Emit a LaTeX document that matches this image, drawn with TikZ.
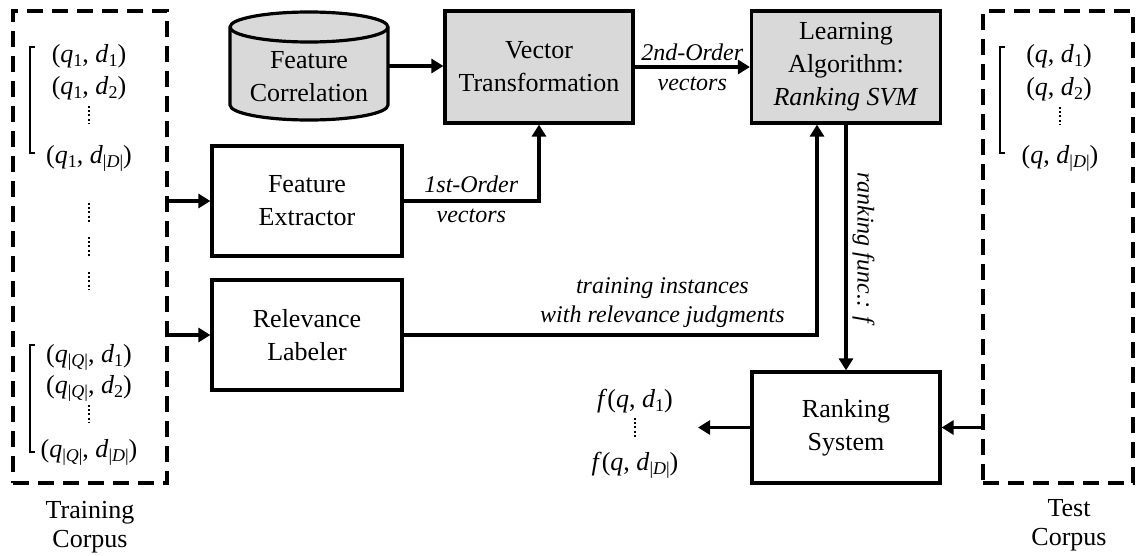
\documentclass[tikz,border=0pt]{standalone}
\usepackage{fontspec}
\setmainfont{Liberation Serif}
\usetikzlibrary{arrows.meta}
\definecolor{boxgray}{RGB}{217,217,217}
\newcommand{\mysb}[1]{\raisebox{-0.16em}{\fontsize{18}{18}\selectfont #1}}
\newcommand{\myq}[1]{\textit{q}\mysb{#1}}
\newcommand{\myd}[1]{\textit{d}\mysb{#1}}
\begin{document}
\begin{tikzpicture}[x=1pt,y=-1pt,
  txt/.style={font=\fontsize{26}{33}\selectfont, align=center},
  box/.style={draw, line width=3.2pt, txt, inner sep=0pt},
  shaded/.style={box, fill=boxgray},
  corpus/.style={draw, line width=3.2pt, dash pattern=on 16pt off 9pt},
  lbl/.style={font=\fontsize{24}{29}\selectfont\itshape, align=center, inner sep=0pt},
  lblup/.style={lbl, anchor=base, yshift=#1},
  arr/.style={line width=3.2pt, -{Triangle[length=12pt,width=14pt]}},
  brk/.style={line width=1.4pt},
  dts/.style={line width=2pt, dash pattern=on 2pt off 2.2pt},
]
\useasboundingbox (0,0) rectangle (1136,555);

% corpora
\node[corpus, minimum width=154pt, minimum height=472pt] (train) at (90,247) {};
\node[corpus, minimum width=150pt, minimum height=472pt] (test) at (1058,247) {};
\node[txt, font=\fontsize{26}{29}\selectfont, anchor=north, inner sep=0pt] (trainlbl) at (90,501) {Training\\Corpus};
\node[txt, font=\fontsize{26}{29}\selectfont, anchor=north, inner sep=0pt] (testlbl) at (1069,499) {Test\\Corpus};

% training list
\draw[brk] (35,47) -- (30,47) -- (30,153) -- (35,153);
\node[txt, anchor=base] (ta1) at (89,62) {(\myq{1}, \myd{1})};
\node[txt, anchor=base] (ta2) at (89,94) {(\myq{1}, \myd{2})};
\draw[dts] (89,106) -- (89,124);
\node[txt, anchor=base] (ta3) at (89,163) {(\myq{1}, \myd{|\textit{D}|})};
\draw[dts] (89,203) -- (89,222);
\draw[dts] (89,237) -- (89,257);
\draw[dts] (89,272) -- (89,290);
\draw[brk] (35,345) -- (30,345) -- (30,452) -- (35,452);
\node[txt, anchor=base] (tb1) at (89,362) {(\myq{|\textit{Q}|}, \myd{1})};
\node[txt, anchor=base] (tb2) at (89,393) {(\myq{|\textit{Q}|}, \myd{2})};
\draw[dts] (89,405) -- (89,423);
\node[txt, anchor=base] (tb3) at (89,457) {(\myq{|\textit{Q}|}, \myd{|\textit{D}|})};

% test list
\draw[brk] (1005,47) -- (1000,47) -- (1000,153) -- (1005,153);
\node[txt, anchor=base] (sa1) at (1059,62) {(\textit{q}, \myd{1})};
\node[txt, anchor=base] (sa2) at (1059,95) {(\textit{q}, \myd{2})};
\draw[dts] (1060,107) -- (1060,125);
\node[txt, anchor=base] (sa3) at (1060,163) {(\textit{q}, \myd{|\textit{D}|})};

% cylinder
\node[minimum width=158pt, minimum height=108pt, inner sep=0pt] (fc) at (309,66) {};
\draw[fill=boxgray, line width=3.2pt] (230,27) -- (230,105)
  arc[start angle=180, end angle=360, x radius=79pt, y radius=15pt]
  -- (388,27)
  arc[start angle=0, end angle=180, x radius=79pt, y radius=15pt] -- cycle;
\draw[line width=3.2pt] (230,27) arc[start angle=180, end angle=360, x radius=79pt, y radius=15pt];
\node[txt] (fctxt) at (309,77) {Feature\\Correlation};

% boxes
\node[shaded, minimum width=188pt, minimum height=112pt] (vt) at (539,67) {Vector\\Transformation};
\node[shaded, minimum width=189pt, minimum height=112pt] (la) at (846,67) {Learning\\Algorithm:\\\textit{Ranking SVM}};
\node[box, minimum width=190pt, minimum height=110pt] (fe) at (307,201) {Feature\\Extractor};
\node[box, minimum width=190pt, minimum height=110pt] (rl) at (307,335) {Relevance\\Labeler};
\node[box, minimum width=188pt, minimum height=111pt] (rs) at (846,427.5) {Ranking\\System};

% connectors
\draw[arr] (train.east |- fe.west) -- (fe.west);
\draw[arr] (train.east |- rl.west) -- (rl.west);
\draw[arr] (fc.east) -- (fc.east -| vt.west);
\draw[arr] (fe.east) -- node[lblup=9pt] {1st-Order} node[lblup=-21pt] {vectors} (fe.east -| vt.south) -- (vt.south);
\draw[arr] (vt.east) -- node[lblup=7pt] {2nd-Order} node[lblup=-23pt] {vectors} (vt.east -| la.west);
\coordinate (lain) at ([xshift=-29pt]la.south);
\draw[arr] (rl.east) -| node[lbl, pos=0.313, anchor=south, yshift=6pt] {training instances\\with relevance judgments} (lain);
\draw[arr] (la.south) -- node[lbl, midway, rotate=-90, anchor=south, inner sep=5pt] {ranking func.: f} (la.south |- rs.north);
\draw[arr] (test.west |- rs.east) -- (rs.east);
\coordinate (outend) at (698,427.5);
\draw[arr] (rs.west) -- (outend);

% outputs
\node[txt, anchor=base] (o1) at (635,407) {\textit{f}(\textit{q}, \myd{1})};
\draw[dts] (635,418) -- (635,437);
\node[txt, anchor=base] (o2) at (635,470) {\textit{f}(\textit{q}, \myd{|\textit{D}|})};
\end{tikzpicture}
\end{document}
